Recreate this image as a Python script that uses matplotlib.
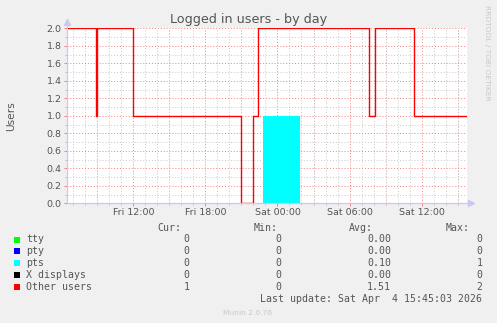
import matplotlib
matplotlib.use("Agg")
import matplotlib.pyplot as plt
from matplotlib.patches import Rectangle
from matplotlib.ticker import MultipleLocator, FixedLocator

# ---------------- data (hours since Fri 00:00) ----------------
x_start = 6.45
x_end = 39.78

other_times = [6.45, 8.92, 9.0, 11.95, 21.0, 21.96, 22.38, 31.58, 32.13, 35.38, 39.78]
other_values = [2, 1, 2, 1, 0, 1, 2, 1, 2, 1, 1]

pts_times = [6.45, 22.83, 25.89, 39.78]
pts_values = [0, 1, 0, 0]

tick_hours = [12, 18, 24, 30, 36]
tick_labels = ["Fri 12:00", "Fri 18:00", "Sat 00:00", "Sat 06:00", "Sat 12:00"]
y_ticks = [0.0, 0.2, 0.4, 0.6, 0.8, 1.0, 1.2, 1.4, 1.6, 1.8, 2.0]

legend_names = ["tty", "pty", "pts", "X displays", "Other users"]
legend_colors = ["#00FF00", "#0000FF", "#00FFFF", "#000000", "#FF0000"]
legend_cur = ["0", "0", "0", "0", "1"]
legend_min = ["0", "0", "0", "0", "0"]
legend_avg = ["0.00", "0.00", "0.10", "0.00", "1.51"]
legend_max = ["0", "0", "1", "0", "2"]

title = "Logged in users - by day"
ylabel = "Users"
last_update = "Last update: Sat Apr  4 15:45:03 2026"
version = "Munin 2.0.76"
side_text = "RRDTOOL / TOBI OETIKER"

# ---------------- figure ----------------
W, H = 497, 323
fig = plt.figure(figsize=(W / 100, H / 100), dpi=100, facecolor="#F0F0F0")

L, R, T, B = 66.7, 467.0, 28.3, 203.3
ax = fig.add_axes([L / W, 1 - B / H, (R - L) / W, (B - T) / H])
ax.set_facecolor("white")
ax.set_xlim(x_start, x_end)
ax.set_ylim(0, 2.0)
ax.set_axisbelow(True)

grey = "#555555"
ax.fill_between(pts_times, pts_values, step="post", color="#00FFFF", linewidth=0, zorder=2)
ax.step(other_times, other_values, where="post", color="#FF0000", linewidth=1.0, zorder=3)

ax.xaxis.set_major_locator(FixedLocator(tick_hours))
ax.set_xticklabels(tick_labels)
ax.xaxis.set_minor_locator(MultipleLocator(1))
ax.yaxis.set_major_locator(FixedLocator(y_ticks))
ax.set_yticklabels([f"{v:.1f}" for v in y_ticks])
ax.yaxis.set_minor_locator(MultipleLocator(0.1))

# grid
minor_style = dict(color="#C8C8C8", linestyle=(0, (1, 2)), linewidth=0.7)
major_style = dict(color="#F08080", linestyle=(0, (1, 2)), linewidth=0.7)
ax.grid(which="minor", **minor_style)
ax.grid(which="major", axis="y", **major_style)
for h in range(9, 40, 3):
    if x_start < h < x_end:
        ax.axvline(h, zorder=0.5, **major_style)
ax.grid(which="major", axis="x", visible=False)

ax.tick_params(which="major", length=2.5, width=0.7, color="#F08080",
               labelsize=6.8, labelcolor=grey, pad=1.2)
ax.tick_params(which="minor", length=1.5, width=0.6, color="#BBBBBB")

for s in ["top", "right"]:
    ax.spines[s].set_visible(False)
for s in ["left", "bottom"]:
    ax.spines[s].set_color("#C8C8F0")
    ax.spines[s].set_linewidth(0.8)

# ---------------- overlay for texts in pixel coordinates ----------------
ov = fig.add_axes([0, 0, 1, 1], facecolor="none")
ov.set_xlim(0, W)
ov.set_ylim(H, 0)
ov.axis("off")

# axis arrows
ov.plot([L, L], [B, 23], color="#C8C8F0", lw=0.8)
ov.plot([L, 471], [B, B], color="#C8C8F0", lw=0.8)
ov.plot([L], [22], marker="^", color="#C8C8F0", markersize=4.5)
ov.plot([471], [B], marker=">", color="#C8C8F0", markersize=4.5)

ov.text(W / 2, 19, title, ha="center", va="center", fontsize=9.2, color=grey,
        family="DejaVu Sans")
ov.text(11, (T + B) / 2, ylabel, ha="center", va="center", rotation=90,
        fontsize=7.7, color=grey, family="DejaVu Sans")
ov.text(487.5, 5, side_text, ha="center", va="top", rotation=270,
        fontsize=5.4, color="#C8C8C8", family="DejaVu Sans")

mono = dict(family="DejaVu Sans Mono", fontsize=7.1, color=grey, va="center")
ov.text(181, 228.3, "Cur:", ha="right", **mono)
ov.text(277.3, 228.3, "Min:", ha="right", **mono)
ov.text(373.3, 228.3, "Avg:", ha="right", **mono)
ov.text(470, 228.3, "Max:", ha="right", **mono)

row_y = [239.5, 251.3, 263.3, 275.4, 287.3]
for i, name in enumerate(legend_names):
    y = row_y[i]
    ov.add_patch(Rectangle((14, y - 3), 6, 6, color=legend_colors[i], lw=0))
    ov.text(26, y, name, ha="left", **mono)
    ov.text(189.8, y, legend_cur[i], ha="right", **mono)
    ov.text(281, y, legend_min[i], ha="right", **mono)
    ov.text(391, y, legend_avg[i], ha="right", **mono)
    ov.text(482.7, y, legend_max[i], ha="right", **mono)

ov.text(482.5, 299.2, last_update, ha="right", **mono)
ov.text(247.5, 313, version, ha="center", va="center", fontsize=5.4,
        color="#C8C8C8", family="DejaVu Sans")

fig.savefig("out.png", dpi=100, facecolor=fig.get_facecolor())
